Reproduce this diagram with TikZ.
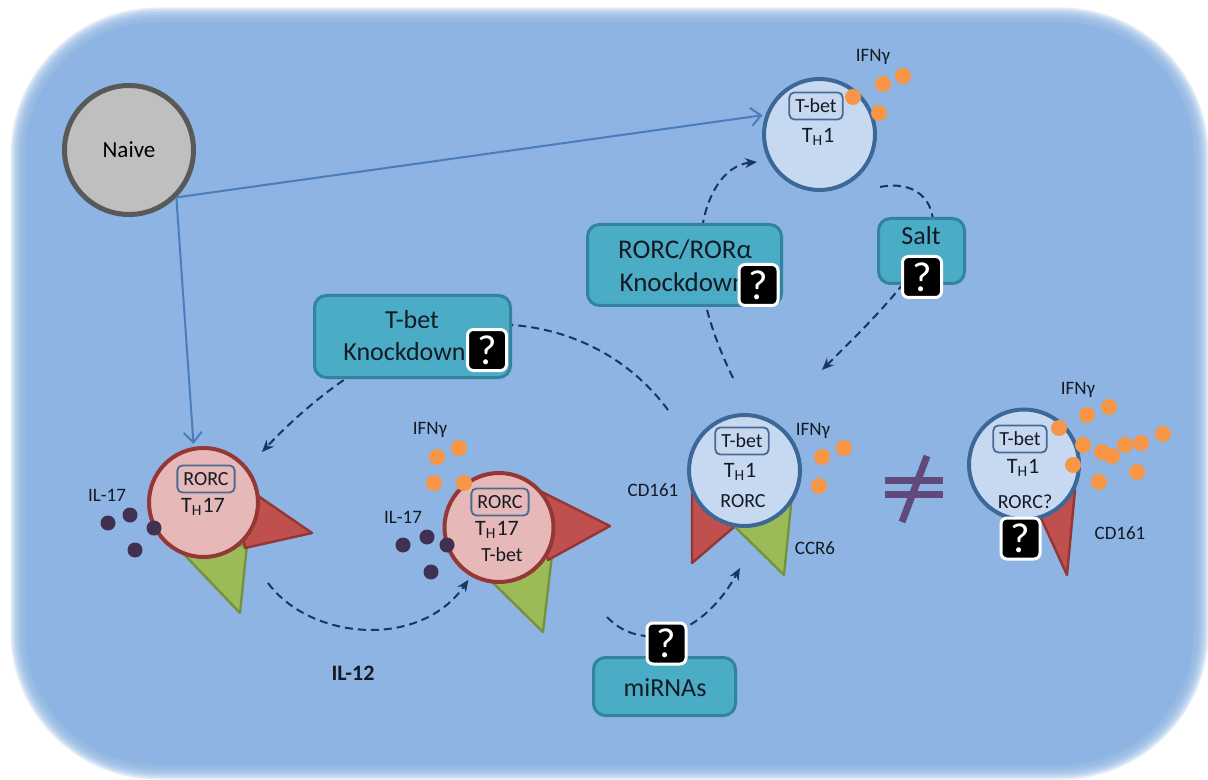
\documentclass[tikz,border=0pt]{standalone}
\usepackage{fontspec}
\setmainfont{Carlito}
\usetikzlibrary{arrows.meta}
\definecolor{bgblue}{HTML}{8DB4E2}
\definecolor{naivefill}{HTML}{BFBFBF}
\definecolor{naiveline}{HTML}{595959}
\definecolor{thonefill}{HTML}{C6D9F1}
\definecolor{thoneline}{HTML}{3C6898}
\definecolor{thsevfill}{HTML}{E6B9B8}
\definecolor{thsevline}{HTML}{953735}
\definecolor{redrec}{HTML}{C0504D}
\definecolor{redline}{HTML}{943634}
\definecolor{greenrec}{HTML}{9BBB59}
\definecolor{greenline}{HTML}{76923C}
\definecolor{boxteal}{HTML}{4BACC6}
\definecolor{tealline}{HTML}{31849B}
\definecolor{ifn}{HTML}{F79646}
\definecolor{ilsev}{HTML}{403152}
\definecolor{navy}{HTML}{17375E}
\definecolor{arrowblue}{HTML}{4A7EBB}
\definecolor{markline}{HTML}{4A6A94}
\definecolor{neq}{HTML}{604A7B}
\definecolor{ink}{HTML}{141A24}
\tikzset{%
    naive/.style={circle, fill=naivefill, draw=naiveline, line width=2.5pt,
        minimum size=64.5pt, font=\fontsize{11.5}{13}\selectfont},
    cell/.style={circle, line width=2pt, inner sep=0pt},
    thone/.style={cell, fill=thonefill, draw=thoneline, minimum size=55.5pt},
    thseventeen/.style={cell, fill=thsevfill, draw=thsevline, minimum size=54.5pt},
    markbox/.style={draw=markline, rounded corners=2.5pt, line width=0.9pt,
        inner xsep=3pt, inner ysep=1pt, minimum height=13.5pt, text=ink,
        font=\fontsize{10}{12}\selectfont},
    cellname/.style={font=\fontsize{11}{13}\selectfont, text=ink, inner sep=1pt},
    celltext/.style={font=\fontsize{10}{12}\selectfont, text=ink, inner sep=1pt},
    lbl/.style={font=\fontsize{9.5}{11}\selectfont, text=ink, inner sep=1pt},
    knock/.style={fill=boxteal, draw=tealline, line width=1.5pt, rounded corners=6pt},
    knocktext/.style={font=\fontsize{13.5}{15}\selectfont, text=ink, inner sep=1pt},
    qmark/.style={fill=black, draw=white, line width=1.5pt, rounded corners=3pt,
        minimum width=19.5pt, minimum height=20.5pt, inner sep=0pt, text=white,
        font=\fontsize{21}{21}\selectfont},
    redtri/.style={fill=redrec, draw=redline, line width=1.2pt, line join=round},
    greentri/.style={fill=greenrec, draw=greenline, line width=1.2pt, line join=round},
    fate/.style={arrowblue, line width=1pt,
        -{Straight Barb[length=5pt, width=9pt]}},
    effect/.style={navy, line width=1pt, dash pattern=on 4pt off 2.5pt,
        -{Stealth[length=6pt, width=5pt]}}
}

\begin{document}
\begin{tikzpicture}[x=0.5pt, y=-0.5pt]

    \useasboundingbox (0, 0) rectangle (1208, 780);
    \fill[white] (0, 0) rectangle (1208, 780);

    %%%%%%%%%%%%
    % Background, soft edged
    \foreach \e [evaluate=\e as \r using 70+\e/2] in
        {7.5, 6, 4.5, 3, 1.5, 0, -1.5, -3, -4.5, -6}{%
        \fill[bgblue, opacity=0.22, rounded corners=\r pt]
            ({18-(\e)}, {15-(\e)}) rectangle ({1201+\e}, {772+\e});
    };
    \fill[bgblue, rounded corners=66pt] (25.5, 22.5) rectangle (1193.5, 764.5);

    %%%%%%%%%%%%
    % Receptors
    \filldraw[greentri] (178, 548) -- (247, 545) -- (240, 613) -- cycle;
    \filldraw[redtri] (235, 480) -- (312, 533) -- (245, 548) -- cycle;

    \filldraw[greentri] (485, 575) -- (552, 555) -- (543, 632) -- cycle;
    \filldraw[redtri] (530, 486) -- (610, 526) -- (548, 560) -- cycle;

    \filldraw[redtri] (692, 470) -- (692, 563) -- (748, 515) -- cycle;
    \filldraw[greentri] (728, 520) -- (792, 495) -- (784, 575) -- cycle;

    \filldraw[redtri] (1035, 505) -- (1075, 490) -- (1067, 575) -- cycle;

    %%%%%%%%%%%%
    % Cells
    \node[naive] (naive) at (129, 150) {Naive};

    \node[thone] (th1a) at (819.5, 134.5) {};
    \node[markbox] (th1a-tbet) at (816, 106) {T-bet};
    \node[cellname] (th1a-name) at (818, 137) {T\textsubscript{H}1};

    \node[thseventeen] (th17a) at (203.5, 502.5) {};
    \node[markbox] (th17a-rorc) at (206, 479) {RORC};
    \node[cellname] (th17a-name) at (203, 507) {T\textsubscript{H}17};

    \node[thseventeen] (th17b) at (499, 527.5) {};
    \node[markbox] (th17b-rorc) at (500, 502) {RORC};
    \node[cellname] (th17b-name) at (497, 530) {T\textsubscript{H}17};
    \node[celltext] (th17b-tbet) at (502, 555) {T-bet};

    \node[thone] (th1b) at (744.5, 470.5) {};
    \node[markbox] (th1b-tbet) at (742, 441) {T-bet};
    \node[cellname] (th1b-name) at (740, 472) {T\textsubscript{H}1};
    \node[celltext] (th1b-rorc) at (743, 501) {RORC};

    \node[thone, minimum size=55pt] (th1c) at (1024, 464.5) {};
    \node[markbox] (th1c-tbet) at (1020, 439) {T-bet};
    \node[cellname] (th1c-name) at (1023, 468) {T\textsubscript{H}1};
    \node[celltext] (th1c-rorc) at (1025, 502) {RORC?};

    % Cytokines
    \foreach \x/\y in {853/97, 883/84, 903/76, 879/113,
        437/457, 459/448, 434/483, 464/483,
        822/457, 844/448, 819/486,
        1059/428, 1087/415, 1109/407, 1083/445, 1102/452, 1112/456,
        1125/445, 1141/443, 1163/434, 1073/465, 1137/472, 1099/482}{%
        \fill[ifn] (\x, \y) circle[radius=4pt];
    };
    \foreach \x/\y in {108/523, 130/515, 154/528, 135/550,
        403/545, 427/537, 447/545, 431/572}{%
        \fill[ilsev] (\x, \y) circle[radius=3.75pt];
    };

    \node[lbl] (il-a) at (107, 495) {IL-17};
    \node[lbl] (il-b) at (403, 517) {IL-17};
    \node[lbl] (ifn-a) at (873, 57) {IFNγ};
    \node[lbl] (ifn-b) at (430, 430) {IFNγ};
    \node[lbl] (ifn-c) at (813, 431) {IFNγ};
    \node[lbl] (ifn-d) at (1078, 390) {IFNγ};
    \node[lbl] (cd-b) at (653, 490) {CD161};
    \node[lbl] (ccr-b) at (815, 548) {CCR6};
    \node[lbl] (cd-c) at (1120, 533) {CD161};
    \node[font=\fontsize{11}{13}\selectfont\bfseries, text=ink] (il12) at (353, 673)
        {IL-12};

    % Not equal
    \draw[neq, line width=3.5pt] (885, 480) -- (943, 480);
    \draw[neq, line width=3.5pt] (885, 494) -- (943, 494);
    \draw[neq, line width=3.5pt] (927, 456) -- (902, 522);

    %%%%%%%%%%%%
    % Differentiation
    \draw[fate, shorten >=1.5pt] (naive.-45) -- (th1a.160);
    \draw[fate, shorten >=1.5pt] (naive.-45) -- (th17a.100);

    % Plasticity
    \coordinate (rk-from) at (733, 378);
    \coordinate (rk-to) at (757, 162);
    \coordinate (salt-from) at (880, 187);
    \coordinate (salt-to) at (822, 370);
    \coordinate (tk-from) at (668, 410);
    \coordinate (tk-to) at (262, 452);
    \coordinate (il12-from) at (268, 583);
    \coordinate (mir-from) at (607, 617);
    \coordinate (mir-to) at (740, 568);

    \draw[effect] (rk-from) .. controls (712, 335) and (698, 290) .. (700, 250)
        .. controls (702, 195) and (725, 165) .. (rk-to);
    \draw[effect] (salt-from) .. controls (915, 180) and (935, 200) .. (933, 228)
        .. controls (930, 265) and (862, 330) .. (salt-to);
    \draw[effect] (tk-from) .. controls (620, 345) and (545, 320) .. (480, 325)
        .. controls (400, 332) and (320, 390) .. (tk-to);
    \draw[effect, shorten >=2pt] (il12-from) .. controls (310, 640) and (420, 650)
        .. (th17b.240);
    \draw[effect] (mir-from) .. controls (640, 652) and (700, 640) .. (mir-to);

    %%%%%%%%%%%%
    % Factors
    \node[knock, minimum width=98pt, minimum height=41pt] (tbet-kd)
        at (412.5, 336.5) {};
    \node[knocktext, font=\fontsize{13}{15}\selectfont] (tbet-kd-a) at (412, 320)
        {T-bet};
    \node[knocktext, font=\fontsize{13}{15}\selectfont] (tbet-kd-b) at (404.5, 352)
        {Knockdown};

    \node[knock, minimum width=97pt, minimum height=40.5pt] (rorc-kd)
        at (684.5, 265) {};
    \node[knocktext] (rorc-kd-a) at (685, 250) {RORC/RORα};
    \node[knocktext] (rorc-kd-b) at (683, 282) {Knockdown};

    \node[knock, minimum width=43pt, minimum height=32.5pt] (salt) at (921.5, 251) {};
    \node[knocktext, font=\fontsize{13}{15}\selectfont] (salt-txt) at (921, 236)
        {Salt};

    \node[knock, minimum width=71pt, minimum height=29pt] (mirna) at (664.5, 686.5) {};
    \node[knocktext, font=\fontsize{13}{15}\selectfont] (mirna-txt) at (665, 688)
        {miRNAs};

    % Unknowns
    \foreach \x/\y/\n in {487/350/tbet, 758.5/285/rorc, 922/277/salt,
        666.5/643.5/mirna, 1020.5/538.5/th1c}{%
        \node[qmark] (q-\n) at (\x, \y) {?};
    };

\end{tikzpicture}
\end{document}
